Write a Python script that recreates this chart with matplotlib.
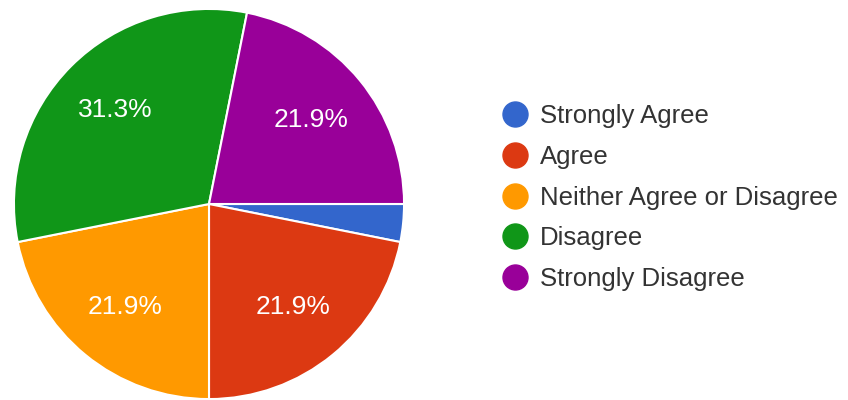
import matplotlib.pyplot as plt
from matplotlib.lines import Line2D
from decimal import Decimal, ROUND_HALF_UP

# survey answers (out of 32 responses)
labels = ["Strongly Agree", "Agree", "Neither Agree or Disagree", "Disagree", "Strongly Disagree"]
counts = [1, 7, 7, 10, 7]
colors = ["#3366cc", "#dc3912", "#ff9900", "#109618", "#990099"]

plt.rcParams['font.family'] = ['Liberation Sans', 'DejaVu Sans']

fig = plt.figure(figsize=(8.48, 4), dpi=100)
ax = fig.add_axes([12 / 848, -1 / 400, 394 / 848, 394 / 400])

def fmt(p):
    # google forms hides labels on small slices, rounds half up
    if p <= 5:
        return ""
    v = Decimal(str(round(p, 6))).quantize(Decimal("0.1"), rounding=ROUND_HALF_UP)
    return f"{v}%"

wedges, texts, autotexts = ax.pie(
    counts, colors=colors, startangle=0, counterclock=False,
    autopct=fmt, pctdistance=0.68,
    wedgeprops=dict(edgecolor="white", linewidth=1.5),
    textprops=dict(color="white", fontsize=19),
)
ax.set_xlim(-1.01, 1.01)
ax.set_ylim(-1.01, 1.01)
ax.set_aspect("equal")

handles = [Line2D([0], [0], marker="o", linestyle="none", markersize=18,
                  markerfacecolor=c, markeredgecolor=c) for c in colors]
fig.legend(handles, labels, loc="center left", bbox_to_anchor=(502 / 848, 0.506),
           frameon=False, fontsize=18.5, labelcolor="#333333",
           handlelength=1.0, handletextpad=0.47, labelspacing=0.65,
           borderpad=0, borderaxespad=0)

fig.savefig("out.png", dpi=100, facecolor="white")
